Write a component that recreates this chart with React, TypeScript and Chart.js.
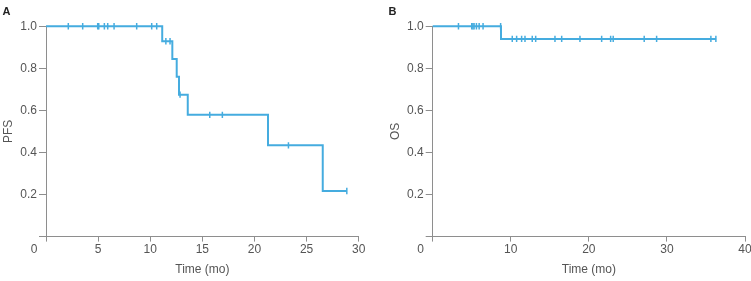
import React, { useEffect, useRef } from "react";
import { Chart, registerables } from "chart.js";

Chart.register(...registerables);

// Progression-free survival: step times (months) and survival after each step
const pfsTimes = [0, 11.15, 12.12, 12.54, 12.76, 13.6, 21.3, 26.55, 28.86];
const pfsSurvival = [1.0, 0.929, 0.844, 0.76, 0.675, 0.579, 0.434, 0.217, 0.217];
// Censored observations (months)
const pfsCensored = [
  2.14, 3.52, 4.96, 5.06, 5.6, 5.92, 6.53, 8.7, 10.14, 10.62, 11.5, 11.9, 12.86,
  15.71, 16.92, 23.26, 28.86,
];

// Overall survival
const osTimes = [0, 8.75, 36.3];
const osSurvival = [1.0, 0.94, 0.94];
const osCensored = [
  3.3, 5.0, 5.15, 5.3, 5.6, 5.95, 6.45, 8.7, 10.19, 10.75, 11.39, 11.82, 12.75,
  13.19, 15.66, 16.52, 18.86, 21.64, 22.79, 23.12, 27.09, 28.68, 35.63, 36.27,
];

const yTicks = [0, 0.2, 0.4, 0.6, 0.8, 1.0];

const LINE = "#45acdf";
const AXIS = "#8e8e8e";
const TEXT = "#555555";
const FONT = '"Liberation Sans", Arial, sans-serif';

function survivalAt(times: number[], surv: number[], t: number) {
  let s = surv[0];
  for (let i = 0; i < times.length; i++) {
    if (times[i] <= t) s = surv[i];
  }
  return s;
}

const panelMarks = {
  id: "panelMarks",
  afterDraw(chart: any, _args: any, opts: any) {
    const { ctx } = chart;
    const xs = chart.scales.x;
    ctx.save();
    ctx.font = `bold 11px ${FONT}`;
    ctx.fillStyle = "#222";
    ctx.textAlign = "left";
    ctx.textBaseline = "alphabetic";
    ctx.fillText(opts.letter, opts.letterX, 15);
    ctx.font = `12px ${FONT}`;
    ctx.fillStyle = TEXT;
    ctx.textAlign = "center";
    ctx.textBaseline = "middle";
    ctx.fillText("0", xs.getPixelForValue(0) - 12, xs.top + 5 + 1 + 7.2);
    ctx.restore();
  },
};

type PanelProps = {
  width: number;
  left: number;
  yWidth: number;
  rightPad: number;
  xMax: number;
  xStep: number;
  yTitle: string;
  yTitlePad: number;
  letter: string;
  letterX: number;
  times: number[];
  surv: number[];
  censored: number[];
};

function Panel(p: PanelProps) {
  const ref = useRef<HTMLCanvasElement>(null);
  useEffect(() => {
    if (!ref.current) return;
    const curve = p.times.map((t, i) => ({ x: t, y: p.surv[i] }));
    const marks = p.censored.map((t) => ({ x: t, y: survivalAt(p.times, p.surv, t) }));
    const chart = new Chart(ref.current, {
      type: "scatter",
      data: {
        datasets: [
          {
            data: curve,
            showLine: true,
            stepped: "before",
            borderColor: LINE,
            borderWidth: 2,
            pointRadius: 0,
            clip: 6,
          } as any,
          {
            data: marks,
            pointStyle: "line",
            rotation: 90,
            pointRadius: 3.2,
            borderColor: LINE,
            borderWidth: 1.5,
            clip: 6,
          } as any,
        ],
      },
      options: {
        animation: false,
        responsive: false,
        events: [],
        layout: { padding: { left: 0, right: p.rightPad, top: 26.3, bottom: 0 } },
        plugins: {
          legend: { display: false },
          tooltip: { enabled: false },
          panelMarks: { letter: p.letter, letterX: p.letterX },
        } as any,
        scales: {
          x: {
            type: "linear",
            min: 0,
            max: p.xMax,
            border: { color: AXIS, width: 1 },
            grid: { drawOnChartArea: false, color: AXIS, tickLength: 5 },
            ticks: {
              stepSize: p.xStep,
              padding: 1,
              color: TEXT,
              font: { family: FONT, size: 12 },
              callback: (v: any) => (Number(v) === 0 ? "" : String(v)),
            },
            title: {
              display: true,
              text: "Time (mo)",
              color: TEXT,
              font: { family: FONT, size: 12 },
              padding: { top: 0, bottom: 4 },
            },
            afterFit: (s: any) => {
              s.height = 44.4;
              s.paddingLeft = 0;
              s.paddingRight = 0;
            },
          },
          y: {
            type: "linear",
            min: 0,
            max: 1,
            border: { color: AXIS, width: 1 },
            grid: { drawOnChartArea: false, color: AXIS, tickLength: 7 },
            afterBuildTicks: (s: any) => {
              s.ticks = yTicks.map((v) => ({ value: v }));
            },
            ticks: {
              padding: 2,
              color: TEXT,
              font: { family: FONT, size: 12 },
              callback: (v: any) => (Number(v) === 0 ? "" : Number(v).toFixed(1)),
            },
            title: {
              display: true,
              text: p.yTitle,
              color: TEXT,
              font: { family: FONT, size: 12 },
              padding: { top: p.yTitlePad, bottom: 0 },
            },
            afterFit: (s: any) => {
              s.width = p.yWidth;
            },
          },
        },
      },
      plugins: [panelMarks],
    });
    return () => chart.destroy();
  }, []);
  return (
    <div style={{ position: "absolute", left: p.left, top: 0, width: p.width, height: 281 }}>
      <canvas ref={ref} width={p.width} height={281} style={{ width: p.width, height: 281 }} />
    </div>
  );
}

export default function App() {
  return (
    <div style={{ position: "absolute", left: 0, top: 0, width: 751, height: 281, background: "#fff" }}>
      <Panel
        width={380}
        left={0}
        yWidth={46}
        rightPad={21.3}
        xMax={30}
        xStep={5}
        yTitle="PFS"
        yTitlePad={1}
        letter="A"
        letterX={2.5}
        times={pfsTimes}
        surv={pfsSurvival}
        censored={pfsCensored}
      />
      <Panel
        width={371}
        left={380}
        yWidth={52.7}
        rightPad={6}
        xMax={40}
        xStep={10}
        yTitle="OS"
        yTitlePad={8}
        letter="B"
        letterX={8.5}
        times={osTimes}
        surv={osSurvival}
        censored={osCensored}
      />
    </div>
  );
}
